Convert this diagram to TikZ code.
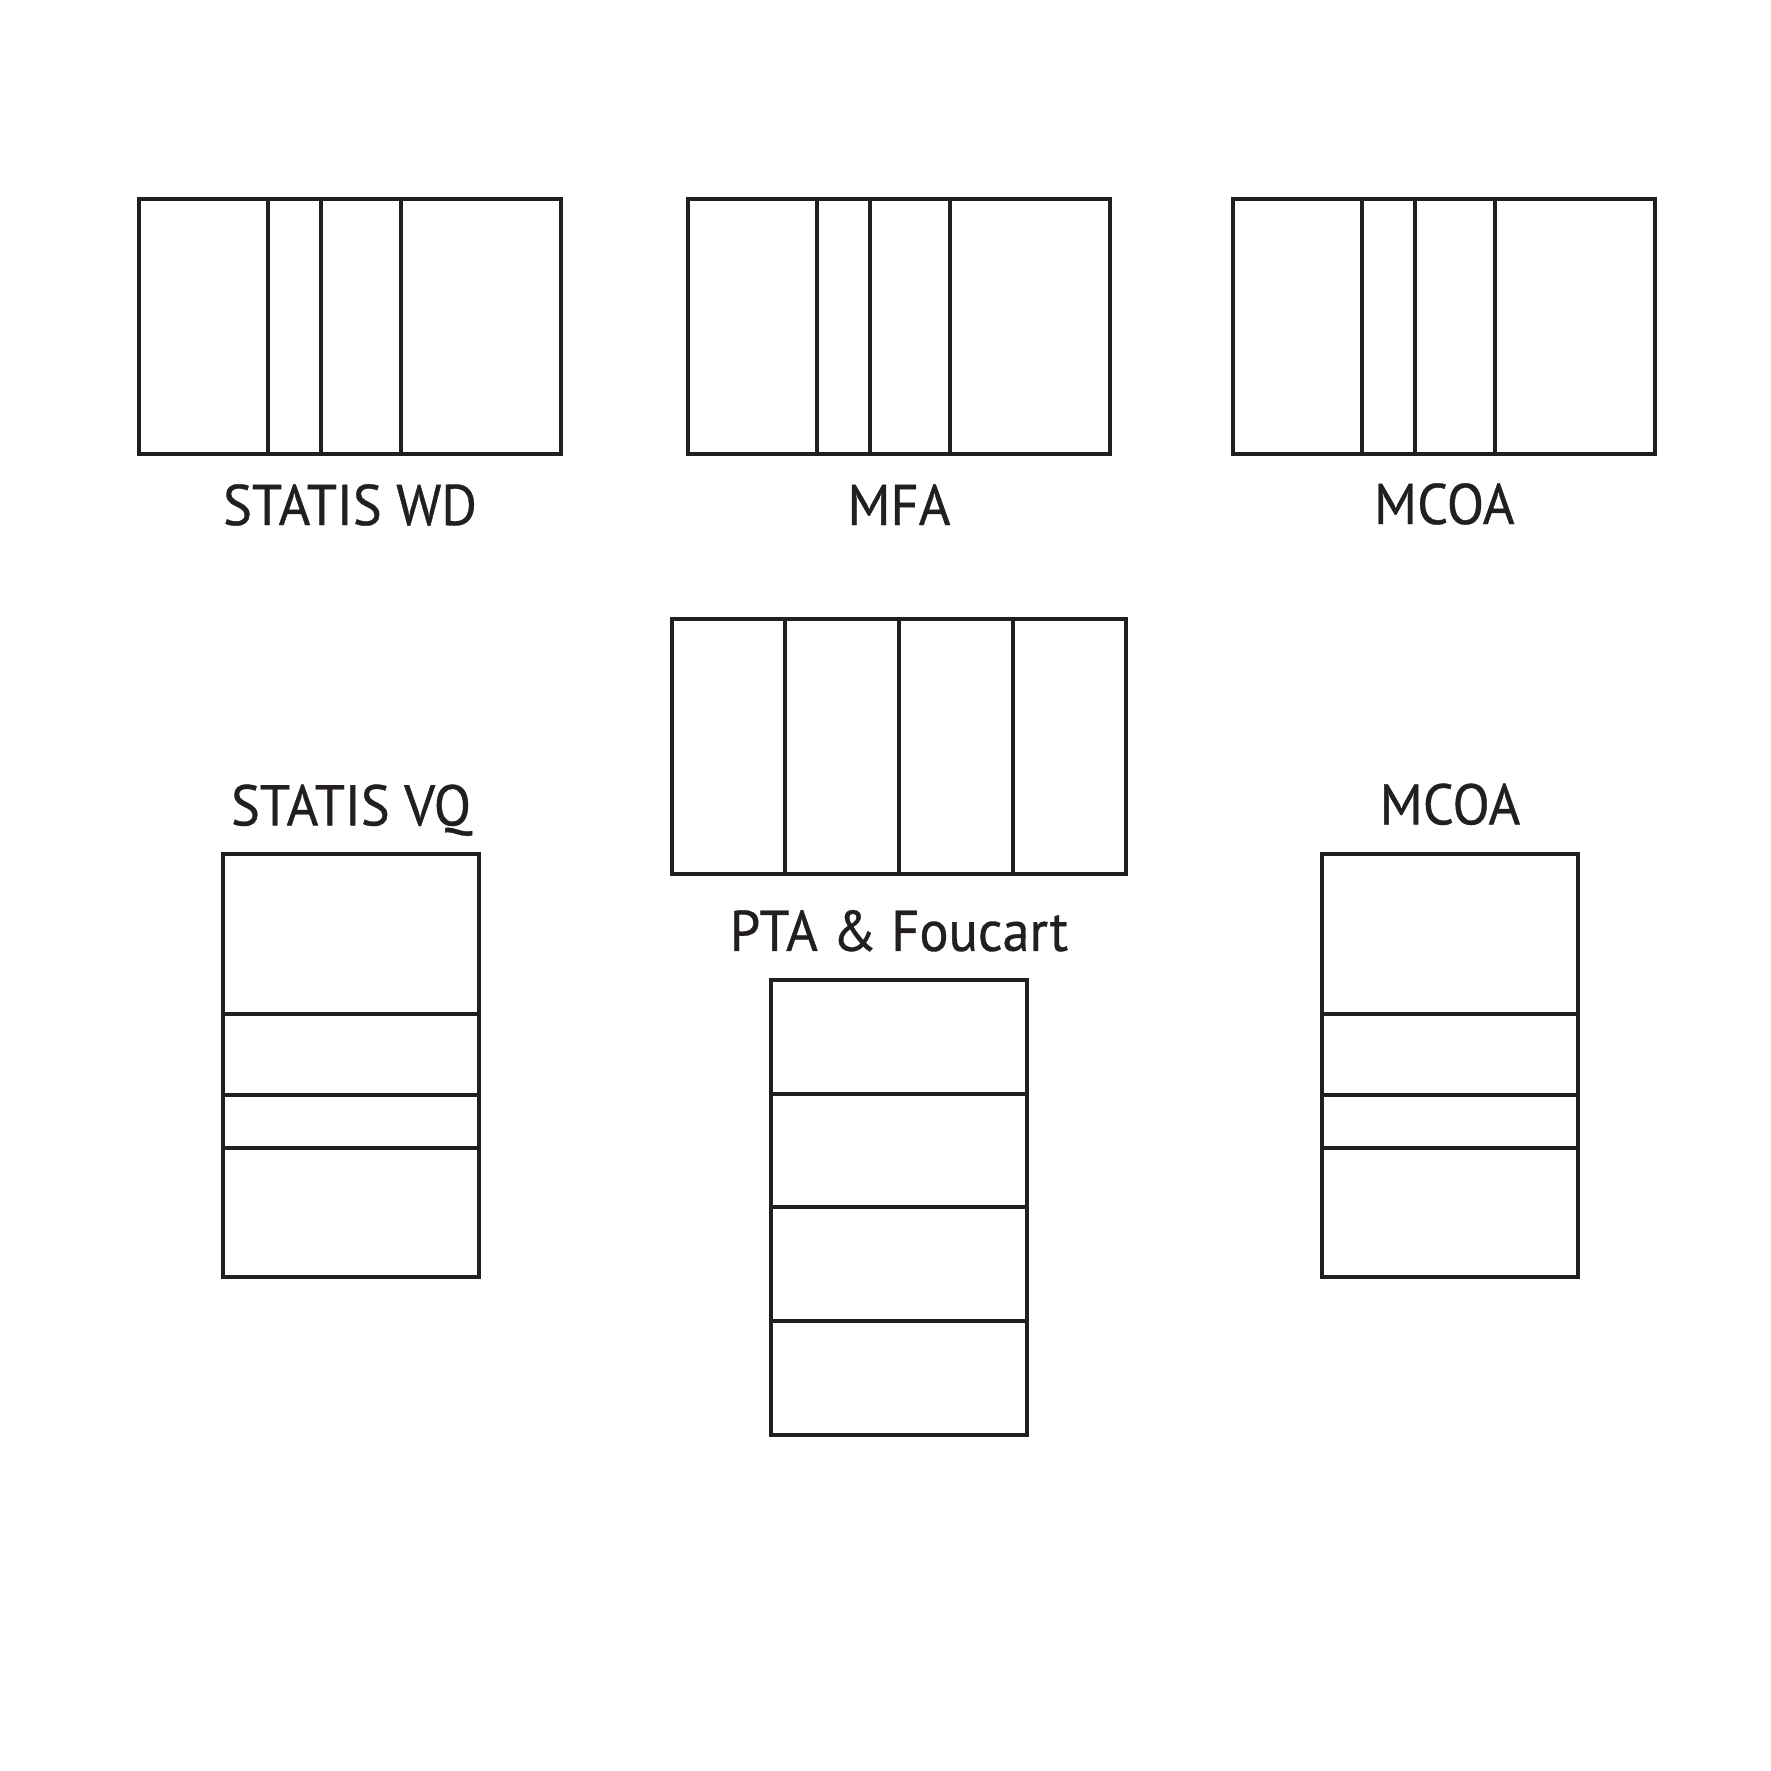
\documentclass[tikz,border=0pt]{standalone}
\usepackage{fontspec}
\setmainfont{PT Sans}[FakeStretch=0.95, FakeBold=0.6]
\usepackage{tikz}
\usetikzlibrary{positioning}
\definecolor{ink}{HTML}{231F20}

\begin{document}
\begin{tikzpicture}[x=0.01cm, y=-0.01cm, line width=1.14pt,
    every node/.style={font=\fontsize{16.3}{19}\selectfont, text=ink},
    wide/.style={draw=ink, minimum width=4.22cm, minimum height=2.55cm, inner sep=0pt, outer sep=0pt},
    tall/.style={draw=ink, minimum width=2.55cm, minimum height=4.22cm, inner sep=0pt, outer sep=0pt},
    quad/.style={draw=ink, minimum width=4.54cm, minimum height=2.55cm, inner sep=0pt, outer sep=0pt},
    quadtall/.style={draw=ink, minimum width=2.55cm, minimum height=4.54cm, inner sep=0pt, outer sep=0pt},
    lbl/.style={anchor=base, inner sep=0pt}]
                \useasboundingbox (0,0) rectangle (1771,1771);

                % top row
                \node[wide] (wd) at (350,326.4) {};
                \node[wide] (mfa) at (899,326.4) {};
                \node[wide] (mcoa) at (1444.3,326.4) {};
                \foreach \b in {wd,mfa,mcoa}
                    \foreach \d in {1.29,1.82,2.62}
                        \draw[ink] ([xshift=\d cm]\b.north west) -- ([xshift=\d cm]\b.south west);

                \node[lbl] (wdlbl) at ([yshift=-0.71cm]wd.south) {STATIS WD};
                \node[lbl] (mfalbl) at ([yshift=-0.71cm]mfa.south) {MFA};
                \node[lbl] (mcoalbl) at ([yshift=-0.70cm]mcoa.south) {MCOA};

                % centre
                \node[quad] (pta) at (899,746.7) {};
                \foreach \d in {1.135,2.27,3.405}
                    \draw[ink] ([xshift=\d cm]pta.north west) -- ([xshift=\d cm]pta.south west);
                \node[lbl] (ptalbl) at ([yshift=-0.765cm]pta.south) {PTA \& Foucart};

                \node[quadtall] (ptb) at (899,1207.4) {};
                \foreach \d in {1.135,2.27,3.405}
                    \draw[ink] ([yshift=-\d cm]ptb.north west) -- ([yshift=-\d cm]ptb.north east);

                % lower sides
                \node[tall] (vq) at (351,1065.5) {};
                \node[tall] (mcob) at (1450,1065.5) {};
                \foreach \b in {vq,mcob}
                    \foreach \d in {1.60,2.40,2.93}
                        \draw[ink] ([yshift=-\d cm]\b.north west) -- ([yshift=-\d cm]\b.north east);

                \node[lbl] (vqlbl) at ([yshift=0.29cm]vq.north) {STATIS VQ};
                \node[lbl] (mcoblbl) at ([yshift=0.30cm]mcob.north) {MCOA};
            \end{tikzpicture}
\end{document}
